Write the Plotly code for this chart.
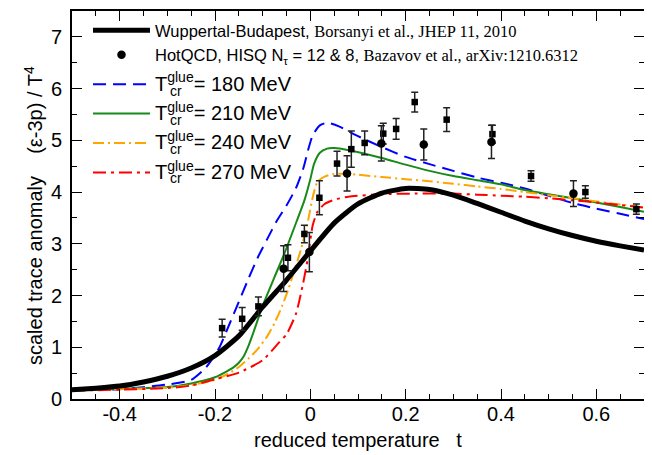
import plotly.graph_objects as go

# ---------------- data ----------------
t_wb = [-0.5, -0.45, -0.4, -0.35, -0.3, -0.25, -0.2, -0.15, -0.1, -0.05, 0.0, 0.05, 0.1, 0.15,
        0.2, 0.25, 0.3, 0.35, 0.4, 0.45, 0.5, 0.55, 0.6, 0.65, 0.7]
y_wb = [0.18, 0.21, 0.25, 0.33, 0.44, 0.60, 0.84, 1.22, 1.78, 2.30, 2.86, 3.40, 3.77, 3.98,
        4.07, 4.05, 3.94, 3.78, 3.61, 3.44, 3.29, 3.16, 3.05, 2.96, 2.88]

t_180 = [-0.5, -0.4, -0.3, -0.25, -0.22, -0.2, -0.19, -0.17, -0.15, -0.13, -0.11, -0.09, -0.07,
         -0.05, -0.03, -0.015, -0.005, 0.005, 0.02, 0.035, 0.06, 0.1, 0.15, 0.2, 0.25, 0.3, 0.35,
         0.4, 0.45, 0.5, 0.55, 0.6, 0.65, 0.7]
y_180 = [0.17, 0.19, 0.28, 0.37, 0.60, 0.85, 1.01, 1.44, 1.88, 2.32, 2.74, 3.10, 3.45,
         3.74, 4.08, 4.45, 4.80, 5.10, 5.29, 5.34, 5.27, 5.08, 4.87, 4.68, 4.54, 4.41, 4.28,
         4.18, 4.07, 3.93, 3.79, 3.68, 3.58, 3.48]

t_210 = [-0.5, -0.3, -0.25, -0.2, -0.18, -0.16, -0.15, -0.14, -0.13, -0.12, -0.1, -0.075, -0.055,
         -0.033, -0.0125, 0.0, 0.008, 0.02, 0.035, 0.05, 0.08, 0.15, 0.2, 0.25, 0.3, 0.35, 0.4,
         0.45, 0.5, 0.55, 0.6, 0.65, 0.7]
y_210 = [0.17, 0.23, 0.30, 0.42, 0.51, 0.62, 0.70, 0.82, 1.02, 1.27, 1.80, 2.36, 2.80,
         3.33, 3.84, 4.25, 4.55, 4.76, 4.84, 4.85, 4.81, 4.66, 4.53, 4.41, 4.31, 4.23, 4.15,
         4.04, 3.96, 3.88, 3.80, 3.71, 3.62]

t_240 = [-0.5, -0.3, -0.25, -0.2, -0.17, -0.15, -0.13, -0.11, -0.09, -0.075, -0.06, -0.047,
         -0.033, -0.02, -0.006, 0.005, 0.015, 0.03, 0.05, 0.08, 0.15, 0.2, 0.25, 0.3, 0.35,
         0.4, 0.45, 0.5, 0.55, 0.6, 0.65, 0.7]
y_240 = [0.17, 0.22, 0.27, 0.37, 0.50, 0.62, 0.78, 0.97, 1.22, 1.47, 1.78, 2.10,
         2.50, 2.88, 3.39, 3.90, 4.20, 4.30, 4.35, 4.35, 4.29, 4.25, 4.21, 4.16, 4.11,
         4.06, 4.00, 3.94, 3.88, 3.82, 3.76, 3.70]

t_270 = [-0.5, -0.3, -0.25, -0.2, -0.15, -0.1, -0.065, -0.05, -0.03, -0.016, -0.006, 0.005,
         0.015, 0.03, 0.05, 0.08, 0.15, 0.22, 0.3, 0.35, 0.4, 0.45, 0.5, 0.55, 0.6, 0.65, 0.7]
y_270 = [0.16, 0.21, 0.26, 0.38, 0.51, 0.75, 1.10, 1.25, 1.65, 2.20, 2.68, 3.36,
         3.62, 3.77, 3.85, 3.91, 3.96, 3.97, 3.97, 3.95, 3.93, 3.91, 3.88, 3.84, 3.80, 3.75, 3.70]

# HotQCD lattice points (squares: one N_tau set, circles: the other)
sq_t = [-0.185, -0.143, -0.109, -0.047, -0.0125, 0.019, 0.056, 0.086, 0.114, 0.153, 0.180,
        0.219, 0.286, 0.382, 0.463, 0.577, 0.684]
sq_y = [1.37, 1.55, 1.79, 2.73, 3.19, 3.89, 4.55, 4.83, 4.95, 5.13, 5.22,
        5.74, 5.40, 5.12, 4.31, 4.00, 3.67]
sq_e = [0.17, 0.22, 0.18, 0.25, 0.17, 0.33, 0.24, 0.35, 0.23, 0.20, 0.20,
        0.19, 0.23, 0.17, 0.10, 0.12, 0.10]

ci_t = [-0.056, -0.002, 0.077, 0.149, 0.238, 0.380, 0.552]
ci_y = [2.52, 2.84, 4.36, 4.94, 4.92, 4.97, 3.97]
ci_e = [0.44, 0.38, 0.34, 0.34, 0.30, 0.32, 0.25]

t_glue = [180, 210, 240, 270]

x_ticks = [-0.4, -0.2, 0, 0.2, 0.4, 0.6]
x_ticklabels = ["-0.4", "-0.2", "0", "0.2", "0.4", "0.6"]
y_ticks = [0, 1, 2, 3, 4, 5, 6, 7]

SANS = "Liberation Sans, Arial, sans-serif"

name_wb = ("Wuppertal-Budapest, <span style='font-family:Liberation Serif'>"
           "Borsanyi et al., JHEP 11, 2010</span>")
name_hot = ("HotQCD, HISQ N<sub>τ</sub> = 12 &amp; 8, <span style='font-family:Liberation Serif'>"
            "Bazavov et al., arXiv:1210.6312</span>")

def tname(v):
    return "<span style='font-size:20px'>T<sup>glue</sup>= %d MeV</span>" % v

fig = go.Figure()

styles = [dict(color="#0000ff", width=2, dash="13px,7px"),
          dict(color="#178a17", width=2),
          dict(color="#ffa500", width=2, dash="11px,4px,2px,4px"),
          dict(color="#ff0000", width=2, dash="13px,5px,3px,5px")]
curves = [(t_180, y_180), (t_210, y_210), (t_240, y_240), (t_270, y_270)]
for i, ((tx, ty), st, g) in enumerate(zip(curves, styles, t_glue)):
    fig.add_trace(go.Scatter(x=tx, y=ty, mode="lines", name=tname(g), legendrank=3 + i,
                             legendgroup="g%d" % g,
                             line=dict(shape="spline", smoothing=0.6, **st)))

fig.add_trace(go.Scatter(x=t_wb, y=y_wb, mode="lines", name=name_wb, legendrank=1, legendgroup="lat",
                         line=dict(color="black", width=5, shape="spline", smoothing=0.6)))

fig.add_trace(go.Scatter(x=sq_t, y=sq_y, mode="markers", showlegend=False,
                         marker=dict(symbol="square", size=6.5, color="black"),
                         error_y=dict(type="data", array=sq_e, color="#222222", thickness=1.5, width=3.5)))
fig.add_trace(go.Scatter(x=ci_t, y=ci_y, mode="markers", name=name_hot, legendrank=2, legendgroup="lat",
                         marker=dict(symbol="circle", size=8.5, color="black"),
                         error_y=dict(type="data", array=ci_e, color="#222222", thickness=1.5, width=3.5)))

axis_common = dict(showline=True, linecolor="black", linewidth=2, mirror="ticks",
                   ticks="inside", tickcolor="black", tickwidth=1.2, ticklen=10,
                   showgrid=False, zeroline=False, automargin=False,
                   tickfont=dict(family=SANS, size=20, color="black"))

fig.update_xaxes(range=[-0.5, 0.7], tickvals=x_ticks, ticktext=x_ticklabels, ticklabelstandoff=-4,
                 minor=dict(ticks="inside", dtick=0.05, ticklen=5, tickcolor="black", tickwidth=1),
                 **axis_common)
fig.update_yaxes(range=[0, 7.5], tickvals=y_ticks, ticklabelstandoff=4,
                 minor=dict(ticks="inside", dtick=0.5, ticklen=5, tickcolor="black", tickwidth=1),
                 **axis_common)

# page body has an 8px margin: the figure is sized so the plot frame lands at x 72..644, y 11..399
W, H = 644, 447
ML, MR, MT, MB = 64, 8, 3, 56
PW, PH = W - ML - MR, H - MT - MB

annotations = [
    dict(text="reduced temperature   t", xref="paper", yref="paper", x=0.5, y=(-41) / PH,
         xanchor="center", yanchor="middle", showarrow=False,
         font=dict(family=SANS, size=20, color="black")),
    dict(text="scaled trace anomaly    (ε-3p) / T<sup>4</sup>", xref="paper", yref="paper",
         x=(-39) / PW, y=(388 - 205) / PH, textangle=-90, xanchor="center", yanchor="middle",
         showarrow=False, font=dict(family=SANS, size=20, color="black")),
]
# subscript "cr" stacked under the "glue" superscript of the legend entries
for k in range(len(t_glue)):
    annotations.append(dict(text="cr", xref="paper", yref="paper",
                            x=(168 - 72) / PW, y=(388 - (91 + 29 * k) + 11) / PH,
                            xanchor="left", yanchor="middle", showarrow=False,
                            font=dict(family=SANS, size=14, color="black")))

fig.update_layout(
    width=W, height=H,
    margin=dict(l=ML, r=MR, t=MT, b=MB, autoexpand=False),
    plot_bgcolor="white", paper_bgcolor="white",
    font=dict(family=SANS, size=16.5, color="black"),
    showlegend=True,
    annotations=annotations,
    legend=dict(x=16 / PW, y=1 - 2 / PH, xanchor="left", yanchor="top", bgcolor="rgba(0,0,0,0)",
                itemwidth=57, tracegroupgap=5, font=dict(family=SANS, size=16.5, color="black")),
)

fig.write_html("out.html")
